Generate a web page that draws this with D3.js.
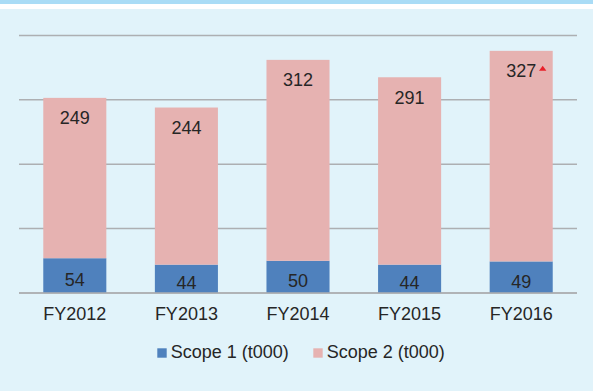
<!DOCTYPE html>
<html>
<head>
<meta charset="utf-8">
<script src="https://cdn.jsdelivr.net/npm/d3@7"></script>
<style>
  html, body { margin: 0; padding: 0; background: #e1f3fa; }
  svg { display: block; }
  text { font-family: "Liberation Sans", Arial, sans-serif; fill: #262626; }
</style>
</head>
<body>
<svg id="chart" width="593" height="391"></svg>
<script>
// Emissions by financial year, thousands of tonnes
const years = ["FY2012", "FY2013", "FY2014", "FY2015", "FY2016"];
const scope1 = [54, 44, 50, 44, 49];
const scope2 = [249, 244, 312, 291, 327];
const seriesNames = ["Scope 1 (t000)", "Scope 2 (t000)"];
const seriesColors = ["#4f81bd", "#e6b2b1"];
const gridTicks = [0, 100, 200, 300, 400];

const W = 593, H = 391;
const margin = { left: 19, right: 16, top: 35, bottom: 98 };
const svg = d3.select("#chart");

// Page band across the top
svg.append("rect").attr("x", 0).attr("y", 0).attr("width", W).attr("height", 4).attr("fill", "#a9dcf6");
svg.append("rect").attr("x", 0).attr("y", 4).attr("width", W).attr("height", 5).attr("fill", "#ffffff");
svg.append("rect").attr("x", 0).attr("y", 9).attr("width", W).attr("height", H - 9).attr("fill", "#e1f3fa");

const x = d3.scaleBand()
  .domain(years)
  .range([margin.left, W - margin.right])
  .paddingInner(0.435)
  .paddingOuter(0.2175);

const y = d3.scaleLinear()
  .domain([0, 400])
  .range([H - margin.bottom, 35.4]);

// Horizontal gridlines
svg.append("g")
  .selectAll("line")
  .data(gridTicks)
  .join("line")
  .attr("x1", margin.left)
  .attr("x2", W - margin.right)
  .attr("y1", d => y(d))
  .attr("y2", d => y(d))
  .attr("stroke", "#adafb2")
  .attr("stroke-width", 1.5);

const rows = years.map((yr, i) => ({ year: yr, s1: scope1[i], s2: scope2[i] }));
const stack = d3.stack().keys(["s1", "s2"])(rows);

const layers = svg.append("g")
  .selectAll("g")
  .data(stack)
  .join("g")
  .attr("fill", (d, i) => seriesColors[i]);

layers.selectAll("rect")
  .data(d => d)
  .join("rect")
  .attr("x", d => x(d.data.year))
  .attr("width", x.bandwidth())
  .attr("y", d => y(d[1]))
  .attr("height", d => y(d[0]) - y(d[1]));

// Redraw baseline over bars
svg.append("line")
  .attr("x1", margin.left).attr("x2", W - margin.right)
  .attr("y1", y(0)).attr("y2", y(0))
  .attr("stroke", "#adafb2").attr("stroke-width", 1.5);

// Scope 1 labels centred in the lower segment
svg.append("g")
  .selectAll("text")
  .data(stack[0])
  .join("text")
  .attr("x", d => x(d.data.year) + x.bandwidth() / 2)
  .attr("y", d => (y(d[0]) + y(d[1])) / 2 + 10.5)
  .attr("text-anchor", "middle")
  .attr("font-size", 18)
  .text(d => d.data.s1);

// Scope 2 labels near the top of each bar
svg.append("g")
  .selectAll("text")
  .data(stack[1])
  .join("text")
  .attr("x", d => x(d.data.year) + x.bandwidth() / 2)
  .attr("y", d => y(d[1]) + 26.5)
  .attr("text-anchor", "middle")
  .attr("font-size", 18)
  .text(d => d.data.s2);

// Upward marker beside the latest Scope 2 value
const last = stack[1][stack[1].length - 1];
const mx = x(last.data.year) + x.bandwidth() / 2 + 21.5;
const my = y(last[1]) + 15;
svg.append("path")
  .attr("d", `M${mx},${my} L${mx + 3.7},${my + 5} L${mx - 3.7},${my + 5} Z`)
  .attr("fill", "#e8202a");

// Category axis labels
svg.append("g")
  .selectAll("text")
  .data(years)
  .join("text")
  .attr("x", d => x(d) + x.bandwidth() / 2)
  .attr("y", 320)
  .attr("text-anchor", "middle")
  .attr("font-size", 18)
  .text(d => d);

// Legend
const legendX = [157.3, 313.3];
const legend = svg.append("g")
  .selectAll("g")
  .data(seriesNames)
  .join("g")
  .attr("transform", (d, i) => `translate(${legendX[i]},348.3)`);
legend.append("rect")
  .attr("width", 9.4).attr("height", 9.4)
  .attr("fill", (d, i) => seriesColors[i]);
legend.append("text")
  .attr("x", 13.4)
  .attr("y", 9.6)
  .attr("font-size", 18)
  .text(d => d);
</script>
</body>
</html>
